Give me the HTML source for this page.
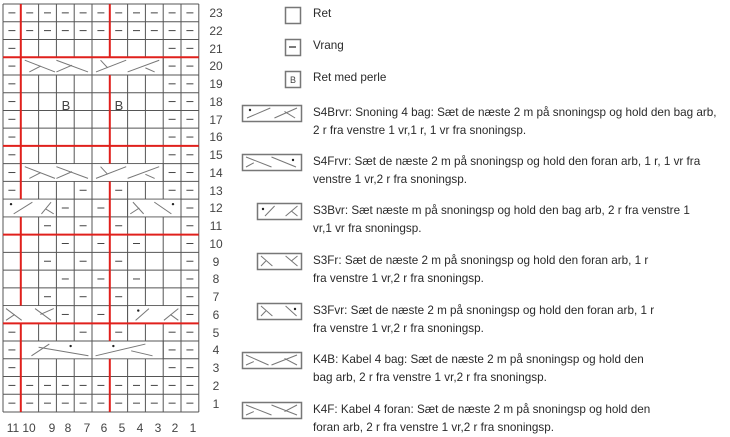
<!DOCTYPE html>
<html><head><meta charset="utf-8"><style>
html,body{margin:0;padding:0;background:#fff;width:730px;height:436px;overflow:hidden}
svg{position:absolute;left:0;top:0}
.t{position:absolute;left:313px;font-family:"Liberation Sans",sans-serif;font-size:11.7px;color:#2a2a2a;line-height:18px;white-space:nowrap}
.bb{position:absolute;left:285px;top:72px;width:16px;height:16px;text-align:center;font-family:"Liberation Sans",sans-serif;font-size:9px;line-height:16px;color:#444}
</style></head><body>
<svg id="s" width="730" height="436" xmlns="http://www.w3.org/2000/svg">
<g font-family="Liberation Sans, sans-serif" font-size="12" fill="#444" text-anchor="middle">
<text x="216" y="17">23</text><text x="216" y="35">22</text><text x="216" y="53">21</text><text x="216" y="70">20</text>
<text x="216" y="88">19</text><text x="216" y="106">18</text><text x="216" y="124">17</text><text x="216" y="141">16</text>
<text x="216" y="159">15</text><text x="216" y="177">14</text><text x="216" y="195">13</text><text x="216" y="212">12</text>
<text x="216" y="230">11</text><text x="216" y="248">10</text><text x="216" y="266">9</text><text x="216" y="283">8</text>
<text x="216" y="301">7</text><text x="216" y="319">6</text><text x="216" y="337">5</text><text x="216" y="354">4</text>
<text x="216" y="372">3</text><text x="216" y="390">2</text><text x="216" y="408">1</text>
<text x="13" y="432">11</text><text x="29" y="432">10</text><text x="52" y="432">9</text><text x="68" y="432">8</text>
<text x="87" y="432">7</text><text x="104" y="432">6</text><text x="122" y="432">5</text><text x="140" y="432">4</text>
<text x="158" y="432">3</text><text x="175" y="432">2</text><text x="193" y="432">1</text>
<text x="66" y="110" font-size="13">B</text><text x="119" y="110" font-size="13">B</text>
</g>
<g id="g"></g>
</svg>
<div class="bb">B</div>
<div class="t" style="top:5px">Ret</div>
<div class="t" style="top:37px">Vrang</div>
<div class="t" style="top:69px">Ret med perle</div>
<div class="t" style="top:104px">S4Brvr: Snoning 4 bag: Sæt de næste 2 m på snoningsp og hold den bag arb,<br>2 r fra venstre 1 vr,1 r, 1 vr fra snoningsp.</div>
<div class="t" style="top:153px">S4Frvr: Sæt de næste 2 m på snoningsp og hold den foran arb, 1 r, 1 vr fra<br>venstre 1 vr,2 r fra snoningsp.</div>
<div class="t" style="top:202px">S3Bvr: Sæt næste m på snoningsp og hold den bag arb, 2 r fra venstre 1<br>vr,1 vr fra snoningsp.</div>
<div class="t" style="top:252px">S3Fr: Sæt de næste 2 m på snoningsp og hold den foran arb, 1 r<br>fra venstre 1 vr,2 r fra snoningsp.</div>
<div class="t" style="top:302px">S3Fvr: Sæt de næste 2 m på snoningsp og hold den foran arb, 1 r<br>fra venstre 1 vr,2 r fra snoningsp.</div>
<div class="t" style="top:351px">K4B: Kabel 4 bag: Sæt de næste 2 m på snoningsp og hold den<br>bag arb, 2 r fra venstre 1 vr,2 r fra snoningsp.</div>
<div class="t" style="top:401px">K4F: Kabel 4 foran: Sæt de næste 2 m på snoningsp og hold den<br>foran arb, 2 r fra venstre 1 vr,2 r fra snoningsp.</div>
<script>
var g=document.getElementById('g'),NS='http://www.w3.org/2000/svg';
function el(n,a){var e=document.createElementNS(NS,n);for(var k in a)e.setAttribute(k,a[k]);g.appendChild(e);return e;}
function L(x1,y1,x2,y2,c,w){el('line',{x1:x1,y1:y1,x2:x2,y2:y2,stroke:c||'#555',
'stroke-width':w||1});}
var X0=3,CW=17.8,Y0=4,RH=17.74;
function cx(i){return X0+i*CW;} function ry(r){return Y0+(23-r)*RH;}
var cab={20:[[1,4,'a'],[5,4,'b']],14:[[1,4,'a'],[5,4,'b']],4:[[1,4,'c'],[5,4,'d']],12:[[0,3,'e'],[7,3,'f']],6:[[0,3,'g'],[7,3,'h']]};
var dash={23:'all',22:'all',21:[0,9,10],20:[0,9,10],19:[0,9,10],18:[0,9,10],17:[0,9,10],16:[0,9,10],15:[0,9,10],14:[0,9,10],
13:[0,4,6,9,10],12:[3,5,10],11:[2,4,6,10],10:[3,5,7,10],9:[2,4,6,10],8:[3,5,7,10],7:[2,4,6,10],6:[3,5,10],5:[0,4,6,9,10],4:[0,9,10],3:[0,9,10],2:'all',1:'all'};
function inCab(r,i){var c=cab[r];if(!c)return false;for(var k=0;k<c.length;k++){if(i>c[k][0]&&i<c[k][0]+c[k][1])return true;}return false;}
for(var r=1;r<=23;r++){var y=ry(r);
 for(var i=0;i<=11;i++){ if(!inCab(r,i)) L(cx(i),y,cx(i),y+RH,'#555');}
}
for(var r=0;r<=23;r++){L(X0,Y0+r*RH,cx(11),Y0+r*RH,'#555');}
for(var r=1;r<=23;r++){var d=dash[r];var list=d=='all'?[0,1,2,3,4,5,6,7,8,9,10]:d;
 list.forEach(function(i){var x=cx(i)+CW/2,y=ry(r)+RH/2;L(x-3.5,y,x+3.5,y,'#444',1);});}
function dot(x,y){el('circle',{cx:x,cy:y,r:1.2,fill:'#222'});}
for(var r in cab){cab[r].forEach(function(c){var x=cx(c[0]),w=c[1]*CW,y=ry(+r),h=RH,t=c[2];
 el('rect',{x:x+0.5,y:y+0.5,width:w-1,height:h-1,fill:'#fff'});L(x,y,x,y+h,'#555');L(x+w,y,x+w,y+h,'#555');
 var k='#777';
 if(t=='a'){L(x+4,y+3,x+w*0.48,y+h-3,k);L(x+w*0.12,y+h-3,x+w*0.28,y+h*0.5,k);L(x+w*0.5,y+3,x+w-4,y+h-3,k);L(x+w*0.5,y+h-3,x+w*0.72,y+h*0.45,k);}
 if(t=='b'){L(x+4,y+h-3,x+w*0.48,y+3,k);L(x+w*0.22,y+h*0.6,x+w*0.12,y+3,k);L(x+w*0.5,y+h-3,x+w-4,y+3,k);L(x+w*0.75,y+h*0.6,x+w*0.88,y+h-3,k);}
 if(t=='c'){L(x+w*0.15,y+h-3,x+w*0.4,y+3,k);L(x+w*0.25,y+h*0.35,x+w*0.95,y+h-3,k);dot(x+w*0.7,y+5);}
 if(t=='d'){L(x+w*0.05,y+h-3,x+w*0.75,y+3,k);L(x+w*0.55,y+h*0.55,x+w*0.85,y+h-3,k);dot(x+w*0.3,y+5);}
 if(t=='e'){L(x+w*0.2,y+h-3,x+w*0.55,y+3,k);L(x+w*0.72,y+h-3,x+w*0.9,y+3,k);L(x+w*0.8,y+h*0.55,x+w*0.95,y+h-3,k);dot(x+w*0.15,y+5);}
 if(t=='f'){L(x+w*0.1,y+3,x+w*0.3,y+h-3,k);L(x+w*0.22,y+h*0.5,x+w*0.05,y+h-3,k);L(x+w*0.5,y+3,x+w*0.82,y+h-3,k);dot(x+w*0.85,y+5);}
 if(t=='g'){L(x+3,y+3,x+w*0.35,y+h-3,k);L(x+w*0.22,y+h*0.5,x+3,y+h-3,k);L(x+w*0.6,y+3,x+w*0.9,y+h-3,k);L(x+w*0.7,y+h*0.5,x+w*0.95,y+3,k);}
 if(t=='h'){L(x+w*0.15,y+h-3,x+w*0.4,y+3,k);L(x+w*0.68,y+h-3,x+w*0.95,y+3,k);L(x+w*0.8,y+h*0.5,x+w*0.95,y+h-3,k);dot(x+w*0.2,y+5);}
});}
var R='#e0201c';
[3,8,13,18].forEach(function(n){L(X0,Y0+n*RH,cx(11),Y0+n*RH,R,2);});
for(var r=1;r<=23;r++){var y=ry(r);
 if(r!=12&&r!=6)L(cx(1),y,cx(1),y+RH,R,2);
 if(r!=20&&r!=14&&r!=4)L(cx(6),y,cx(6),y+RH,R,2);}
function box(x,y,w,h){el('rect',{x:x+0.5,y:y+0.5,width:w,height:h,fill:'#fff',stroke:'#777','stroke-width':1.5});}
box(285,7,15,16);box(285,39,15,16);box(285,71,15,16);L(289,47,296,47,'#333',1.3);
function lg(x,y,w,t){box(x,y,w,16);var h=16,k='#777';
 if(t=='s4b'){L(x+5,y+h-3,x+w*0.48,y+3,k);L(x+w*0.55,y+h-3,x+w-4,y+3,k);L(x+w*0.72,y+h*0.4,x+w*0.9,y+h-3,k);dot(x+8,y+5);}
 if(t=='s4f'){L(x+4,y+3,x+w*0.5,y+h-3,k);L(x+w*0.2,y+h*0.55,x+4,y+h-3,k);L(x+w*0.5,y+3,x+w-5,y+h-3,k);dot(x+w-8,y+6);}
 if(t=='s3b'){L(x+8,y+h-3,x+w*0.4,y+3,k);L(x+w*0.65,y+h-3,x+w*0.92,y+3,k);L(x+w*0.78,y+h*0.5,x+w*0.92,y+h-3,k);dot(x+6,y+6);}
 if(t=='s3f'){L(x+4,y+3,x+w*0.35,y+h-3,k);L(x+w*0.2,y+h*0.5,x+4,y+h-3,k);L(x+w*0.65,y+3,x+w*0.92,y+h-3,k);L(x+w*0.78,y+h*0.5,x+w*0.92,y+3,k);}
 if(t=='s3fv'){L(x+4,y+3,x+w*0.35,y+h-3,k);L(x+w*0.2,y+h*0.5,x+4,y+h-3,k);L(x+w*0.65,y+3,x+w*0.9,y+h-3,k);dot(x+w-6,y+6);}
 if(t=='k4b'){L(x+4,y+3,x+w*0.45,y+h-3,k);L(x+w*0.2,y+h*0.6,x+4,y+h-3,k);L(x+w*0.5,y+h-3,x+w-4,y+3,k);L(x+w*0.72,y+h*0.4,x+w-4,y+h-3,k);}
 if(t=='k4f'){L(x+4,y+3,x+w*0.5,y+h-3,k);L(x+w*0.2,y+h*0.6,x+4,y+h-3,k);L(x+w*0.5,y+3,x+w-4,y+h-3,k);L(x+w*0.72,y+h*0.6,x+w-4,y+3,k);}
}
lg(242,105,59,'s4b');lg(242,154,59,'s4f');lg(257,203,44,'s3b');lg(257,253,44,'s3f');lg(257,303,44,'s3fv');lg(242,352,59,'k4b');lg(242,402,59,'k4f');
</script>
</body></html>
